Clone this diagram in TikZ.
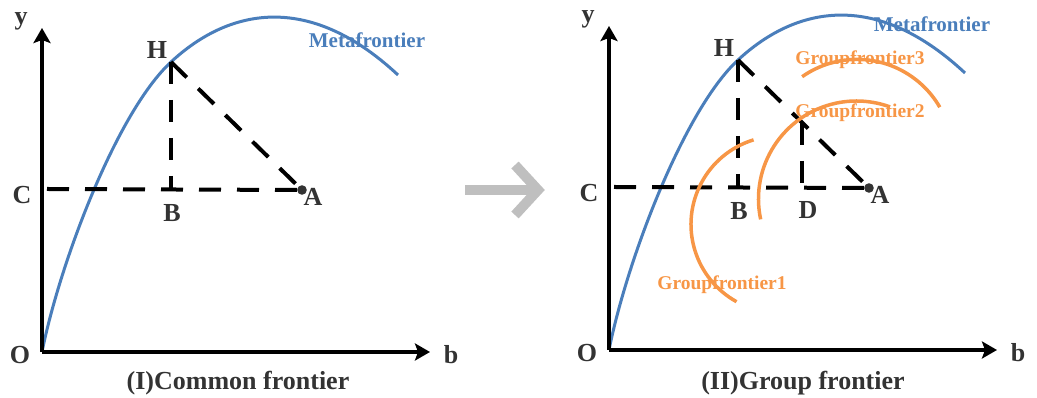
\documentclass[tikz,border=0pt]{standalone}
\usepackage{fontspec}
\setmainfont{Liberation Serif}
\usetikzlibrary{arrows.meta}
\definecolor{metablue}{HTML}{4A7EBB}
\definecolor{grporange}{HTML}{F79646}
\definecolor{lbl}{HTML}{333333}
\definecolor{arrgray}{HTML}{BFBFBF}
\tikzset{
  axis/.style={line width=3.6pt,-{Stealth[length=15pt,width=17pt,inset=3pt]}},
  dashln/.style={line width=4pt,dash pattern=on 22pt off 16pt},
  meta/.style={line width=3pt,metablue},
  grp/.style={line width=3.5pt,grporange},
  lab/.style={text=lbl,font=\fontsize{26}{26}\selectfont\bfseries,inner sep=0pt},
  metalab/.style={text=metablue,font=\fontsize{21}{21}\selectfont\bfseries,inner sep=0pt},
  grplab/.style={text=grporange,font=\fontsize{19.5}{19.5}\selectfont\bfseries,inner sep=0pt},
}
\begin{document}
\begin{tikzpicture}[x=1pt,y=1pt]
\useasboundingbox (0,0) rectangle (1037,398);
% ---------- middle arrow ----------
\coordinate (ms) at (465,208);
\coordinate (mt) at (538,208);
\coordinate (mh1) at (515,233);
\coordinate (mh2) at (515,183);
\draw[arrgray,line width=10pt] (ms) -- (mt);
\draw[arrgray,line width=10pt,line join=miter] (mh1) -- (mt) -- (mh2);
% ---------- left panel ----------
\begin{scope}[shift={(42,46)}]
  \coordinate (O1) at (0,0);
  \coordinate (Y1) at (0,324);
  \coordinate (X1) at (388,0);
  \coordinate (H1) at (129,290);
  \coordinate (A1) at (260,162);
  \coordinate (B1) at (129,163);
  \coordinate (C1) at (5,163);
  \coordinate (E1) at (356,277);
  \draw[meta] (O1) .. controls (18,90) and (75,240) .. (H1) .. controls (185,342) and (265,362) .. (E1);
  \draw[dashln] (C1) -- (A1);
  \draw[dashln] (H1) -- (B1);
  \draw[dashln] (H1) -- (A1);
  \fill[lbl] (A1) circle (4.8pt);
  \draw[axis] (O1) -- (Y1);
  \draw[axis] (O1) -- (X1);
  \node[lab] (ly1) at (-21,331) {y};
  \node[lab] (lo1) at (-22,-3) {O};
  \node[lab] (lb1) at (409,-3) {b};
  \node[lab] (lc1) at (-20,157) {C};
  \node[lab] (lbb1) at (130,139) {B};
  \node[lab] (la1) at (271,155) {A};
  \node[lab] (lh1) at (115,302) {H};
  \node[metalab] (lm1) at (325,312) {Metafrontier};
  \node[lab] (cap1) at (196,-31) {(I)Common frontier};
\end{scope}
% ---------- right panel ----------
\begin{scope}[shift={(609,48)}]
  \coordinate (O2) at (0,0);
  \coordinate (Y2) at (0,324);
  \coordinate (X2) at (388,0);
  \coordinate (H2) at (129,290);
  \coordinate (A2) at (260,162);
  \coordinate (B2) at (129,163);
  \coordinate (C2) at (5,163);
  \coordinate (D2) at (193,227);
  \coordinate (DB2) at (193,163);
  \coordinate (E2) at (356,277);
  \draw[meta] (O2) .. controls (18,90) and (75,240) .. (H2) .. controls (185,342) and (265,362) .. (E2);
  \draw[dashln] (C2) -- (A2);
  \draw[dashln] (H2) -- (B2);
  \draw[dashln] (H2) -- (A2);
  \draw[dashln] (D2) -- (DB2);
  \fill[lbl] (A2) circle (4.8pt);
  \draw[grp] ([shift={(107:88.4)}]170.4,125.6) arc[start angle=107,end angle=241,radius=88.4];
  \draw[grp] ([shift={(192:98)}]247.5,151) arc[start angle=192,end angle=70,radius=98];
  \draw[grp] ([shift={(125:95.6)}]248,195) arc[start angle=125,end angle=30,radius=95.6];
  \draw[axis] (O2) -- (Y2);
  \draw[axis] (O2) -- (X2);
  \node[lab] (ly2) at (-21,331) {y};
  \node[lab] (lo2) at (-22,-3) {O};
  \node[lab] (lb2) at (409,-3) {b};
  \node[lab] (lc2) at (-20,157) {C};
  \node[lab] (lbb2) at (130,139) {B};
  \node[lab] (ld2) at (199,140) {D};
  \node[lab] (la2) at (271,155) {A};
  \node[lab] (lh2) at (115,302) {H};
  \node[metalab] (lm2) at (323,326) {Metafrontier};
  \node[grplab] (g3) at (251,290) {Groupfrontier3};
  \node[grplab] (g2) at (251,237) {Groupfrontier2};
  \node[grplab] (g1) at (113,65) {Groupfrontier1};
  \node[lab] (cap2) at (194,-33) {(II)Group frontier};
\end{scope}
\end{tikzpicture}
\end{document}
